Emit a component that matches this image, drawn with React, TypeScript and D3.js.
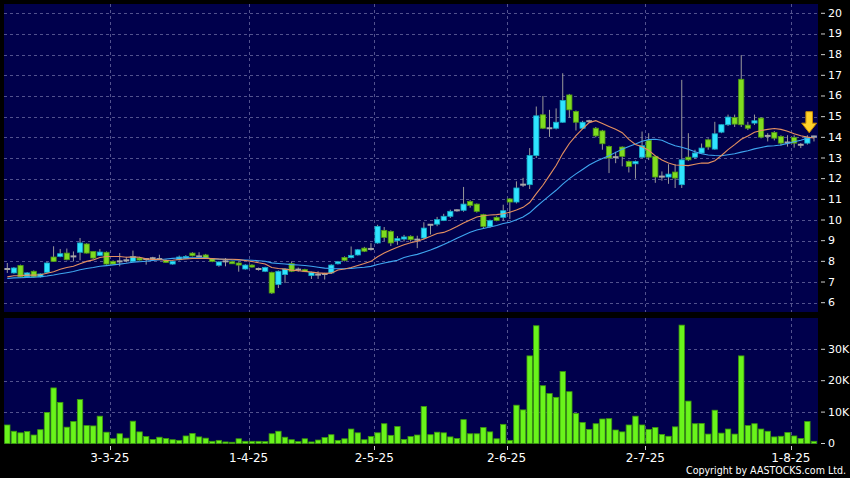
import React from "react";
import * as d3 from "d3";

// trading days Feb 7 2025 .. Aug 6 2025 (HK holidays removed)
const START = "2025-02-07";
const END = "2025-08-06";
const HOLIDAYS = ["2025-04-04", "2025-04-18", "2025-04-21", "2025-05-01", "2025-05-05", "2025-07-01"];

const OPEN = [
  7.63, 7.44, 7.80, 7.25, 7.52, 7.25, 7.47, 8.21, 8.24, 8.40,
  8.24, 8.44, 8.84, 8.48, 8.29, 8.44, 8.00, 8.00, 8.05, 8.00,
  8.16, 8.11, 8.15, 8.11, 8.05, 7.87, 8.08, 8.16, 8.40, 8.24,
  8.31, 8.13, 7.81, 8.00, 7.98, 7.92, 7.63, 7.82, 7.63, 7.52,
  7.47, 6.88, 7.36, 7.89, 7.60, 7.60, 7.31, 7.36, 7.39, 7.44,
  7.89, 8.19, 8.18, 8.31, 8.64, 8.60, 8.89, 9.50, 9.45, 9.00,
  9.08, 9.21, 9.05, 9.13, 9.77, 9.80, 9.98, 10.18, 10.47, 10.47,
  10.90, 10.77, 10.26, 9.69, 10.13, 10.13, 11.02, 10.87, 11.71, 11.71,
  13.12, 15.09, 14.44, 14.44, 14.73, 16.05, 15.25, 14.44, 14.78, 14.44,
  14.31, 13.56, 13.04, 13.53, 12.83, 12.72, 13.04, 13.85, 13.08, 12.10,
  12.08, 12.32, 11.71, 13.04, 13.04, 13.24, 13.88, 13.43, 14.25, 14.61,
  14.96, 16.81, 14.59, 14.69, 14.93, 14.07, 14.23, 14.04, 13.75, 14.00,
  13.64, 13.72, 14.04
];
const HIGH = [
  7.92, 7.72, 7.84, 7.48, 7.56, 7.42, 7.98, 8.73, 8.60, 8.62,
  8.48, 9.13, 8.88, 8.50, 8.60, 8.48, 8.05, 8.40, 8.22, 8.52,
  8.22, 8.16, 8.22, 8.32, 8.10, 8.04, 8.28, 8.30, 8.44, 8.44,
  8.36, 8.16, 8.00, 8.16, 8.02, 7.96, 7.86, 7.86, 7.70, 7.74,
  7.50, 7.56, 7.66, 8.00, 7.70, 7.64, 7.50, 7.52, 7.45, 7.86,
  8.02, 8.24, 8.72, 8.60, 8.70, 8.88, 9.77, 9.66, 9.50, 9.22,
  9.28, 9.26, 9.24, 9.89, 9.80, 10.15, 10.30, 10.50, 10.52, 11.60,
  10.96, 10.80, 10.30, 10.02, 10.18, 10.74, 11.06, 11.87, 12.04, 13.48,
  15.49, 16.00, 15.33, 15.40, 17.10, 16.10, 15.30, 14.80, 14.85, 14.50,
  14.36, 13.60, 13.30, 13.56, 12.88, 12.88, 14.28, 14.20, 13.12, 12.35,
  12.70, 12.70, 16.78, 14.20, 13.40, 13.70, 13.95, 14.75, 14.62, 15.10,
  15.10, 17.98, 14.75, 15.10, 14.98, 14.20, 14.30, 14.10, 14.10, 14.10,
  13.72, 14.10, 14.08
];
const LOW = [
  7.44, 7.40, 7.22, 7.20, 7.22, 7.22, 7.44, 7.98, 8.20, 8.05,
  8.00, 8.05, 8.38, 8.12, 8.26, 7.84, 7.84, 7.76, 7.95, 7.96,
  8.04, 7.84, 8.10, 8.06, 7.92, 7.84, 8.04, 8.12, 8.24, 8.20,
  8.12, 7.96, 7.74, 7.76, 7.88, 7.50, 7.60, 7.70, 7.55, 7.48,
  6.42, 6.71, 6.95, 7.48, 7.50, 7.48, 7.15, 7.15, 7.12, 7.40,
  7.85, 8.00, 8.14, 8.28, 8.45, 8.52, 8.85, 8.98, 8.74, 8.80,
  8.96, 8.96, 8.64, 9.06, 9.30, 9.70, 9.95, 10.10, 10.40, 10.40,
  10.60, 10.36, 9.60, 9.62, 9.94, 9.96, 10.05, 10.80, 11.60, 11.50,
  13.00, 14.40, 14.02, 14.38, 14.70, 14.95, 14.33, 14.40, 14.70, 14.00,
  13.40, 12.27, 12.75, 12.60, 12.30, 12.00, 12.98, 12.90, 11.80, 11.90,
  11.75, 11.55, 11.55, 12.85, 12.95, 13.20, 13.40, 13.40, 14.20, 14.55,
  14.50, 14.50, 14.35, 14.60, 13.95, 13.80, 13.85, 13.60, 13.55, 13.50,
  13.48, 13.65, 13.80
];
const CLOSE = [
  7.63, 7.68, 7.25, 7.44, 7.25, 7.39, 7.92, 8.00, 8.37, 8.08,
  8.24, 8.89, 8.40, 8.16, 8.45, 7.87, 7.87, 8.00, 8.05, 8.24,
  8.07, 8.11, 8.15, 8.11, 7.95, 8.00, 8.21, 8.24, 8.27, 8.24,
  8.16, 8.00, 7.97, 8.00, 7.92, 7.82, 7.82, 7.73, 7.63, 7.70,
  6.47, 7.52, 7.63, 7.52, 7.60, 7.52, 7.47, 7.36, 7.39, 7.82,
  7.98, 8.05, 8.29, 8.56, 8.49, 8.60, 9.69, 9.16, 8.89, 9.10,
  9.18, 9.05, 9.05, 9.61, 9.77, 10.02, 10.18, 10.42, 10.47, 10.77,
  10.71, 10.42, 9.69, 9.97, 9.98, 10.45, 10.87, 11.55, 11.71, 13.12,
  15.04, 14.44, 14.44, 14.73, 15.78, 15.33, 14.73, 14.73, 14.78, 14.07,
  13.69, 13.00, 13.04, 13.08, 12.59, 12.83, 13.59, 13.04, 12.08, 12.10,
  12.22, 12.03, 12.91, 12.91, 13.24, 13.48, 13.53, 14.17, 14.61, 14.98,
  14.64, 14.61, 14.44, 14.80, 14.01, 14.07, 13.96, 13.72, 13.75, 13.72,
  13.64, 14.00, 14.04
];
const VOLUME = [
  5900, 3900, 3400, 3800, 2700, 4400, 9900, 17700, 13100, 5200,
  7000, 14000, 5700, 5600, 8700, 3600, 1500, 3100, 1700, 7100,
  3700, 2200, 1300, 2000, 1600, 1200, 1000, 2400, 3200, 2100,
  1700, 700, 1000, 500, 400, 1500, 700, 700, 700, 600,
  3100, 3900, 2000, 1200, 600, 1500, 500, 1100, 1900, 2800,
  1000, 1500, 4600, 3400, 1200, 2200, 3400, 6300, 2600, 5400,
  1300, 2200, 2700, 11800, 2800, 3600, 3400, 2100, 1600, 7600,
  3100, 3100, 5100, 3700, 1500, 6100, 1000, 12200, 10700, 27900,
  37500, 18400, 15900, 14700, 22900, 16500, 9600, 6700, 4500, 6300,
  7800, 7900, 4300, 3700, 5900, 8700, 5900, 4500, 5100, 2900,
  2300, 5300, 37700, 13500, 6300, 6400, 3000, 10600, 3300, 4600,
  3000, 27900, 5700, 6300, 4600, 3900, 2100, 2300, 3500, 2400,
  1600, 7000, 700
];
// closes before the first bar, only used to seed the moving averages
const PRIOR_CLOSE = [
  7.05, 7.12, 7.08, 7.02, 7.10, 7.15, 7.06, 7.11, 7.09, 7.12,
  7.15, 7.20, 7.18, 7.25, 7.22, 7.19, 7.24, 7.20, 7.24
];
const PRICE_TICKS = [6, 7, 8, 9, 10, 11, 12, 13, 14, 15, 16, 17, 18, 19, 20];
const VOL_TICKS = [0, 10000, 20000, 30000];
const VOL_LABELS = ["0", "10K", "20K", "30K"];

function tradingDays(start: string, end: string, holidays: string[]) {
  const out: string[] = [];
  const d = new Date(start + "T00:00:00Z");
  const e = new Date(end + "T00:00:00Z");
  while (d <= e) {
    const iso = d.toISOString().slice(0, 10);
    const wd = d.getUTCDay();
    if (wd !== 0 && wd !== 6 && !holidays.includes(iso)) out.push(iso);
    d.setUTCDate(d.getUTCDate() + 1);
  }
  return out;
}

function sma(values: number[], prior: number[], n: number) {
  const all = prior.concat(values);
  return values.map((_, i) => {
    const j = i + prior.length;
    const win = all.slice(Math.max(0, j - n + 1), j + 1);
    return d3.mean(win) as number;
  });
}

const DATES = tradingDays(START, END, HOLIDAYS);

const NAVY = "#00004c";
const GRID = "#52528e";
const FONT = "DejaVu Sans, Verdana, sans-serif";

export default function App() {
  const W = 850, H = 478;
  const left = 4, right = 818;
  const upTop = 4, upBot = 312;
  const loTop = 318, loBot = 444;

  const x = d3.scaleBand<string>().domain(DATES).range([left, 817.3]).paddingInner(0).paddingOuter(0);
  const bw = x.step();
  const cx = (d: string) => (x(d) as number) + bw / 2;
  const y = d3.scaleLinear().domain([6, 20]).range([302.7, 13.3]);
  const v = d3.scaleLinear().domain([0, 30000]).range([443.5, 349.3]);

  const ma10 = sma(CLOSE, PRIOR_CLOSE, 10);
  const ma20 = sma(CLOSE, PRIOR_CLOSE, 20);
  const line = d3.line<number>().x((_, i) => cx(DATES[i])).y((d) => y(d)).curve(d3.curveLinear);

  // first trading day of each month (after the first)
  const monthStarts = DATES.filter((d, i) => i > 0 && d.slice(5, 7) !== DATES[i - 1].slice(5, 7));
  const fmt = (iso: string) => {
    const [yy, mm, dd] = iso.split("-");
    return `${+dd}-${+mm}-${yy.slice(2)}`;
  };

  const last = DATES.length - 1;
  const ax = (x(DATES[last]) as number) - 1.5;
  const tipY = y(HIGH[last]) - 3;

  return (
    <svg width={W} height={H} style={{ position: "absolute", left: 0, top: 0, display: "block" }}>
      <rect x={0} y={0} width={W} height={H} fill="#000" />
      <rect x={left} y={upTop} width={right - left} height={upBot - upTop} fill={NAVY} />
      <rect x={left} y={loTop} width={right - left} height={loBot - loTop} fill={NAVY} />

      {/* grid */}
      <g stroke={GRID} strokeWidth={1} strokeDasharray="3,3" shapeRendering="crispEdges">
        {PRICE_TICKS.map((p) => (
          <line key={"hp" + p} x1={left} x2={right} y1={Math.round(y(p)) + 0.5} y2={Math.round(y(p)) + 0.5} />
        ))}
        {VOL_TICKS.slice(1).map((t) => (
          <line key={"hv" + t} x1={left} x2={right} y1={Math.round(v(t)) + 0.5} y2={Math.round(v(t)) + 0.5} />
        ))}
        {monthStarts.map((d) => (
          <g key={"vg" + d}>
            <line x1={Math.round(x(d) as number) + 0.5} x2={Math.round(x(d) as number) + 0.5} y1={upTop} y2={upBot} />
            <line x1={Math.round(x(d) as number) + 0.5} x2={Math.round(x(d) as number) + 0.5} y1={loTop} y2={loBot} />
          </g>
        ))}
      </g>

      {/* candles: wicks */}
      <g stroke="#9a9a9a" strokeWidth={1}>
        {DATES.map((d, i) => (
          <line key={"w" + i} x1={cx(d)} x2={cx(d)} y1={y(HIGH[i])} y2={y(LOW[i])} />
        ))}
      </g>
      {/* candles: bodies */}
      <g>
        {DATES.map((d, i) => {
          const o = OPEN[i], c = CLOSE[i];
          const bx = cx(d) - 2.6;
          if (Math.abs(c - o) < 0.005) {
            return <rect key={"b" + i} x={bx - 0.3} y={y(c) - 1} width={5.8} height={2} fill="#a8a8a8" />;
          }
          const up = c > o;
          const top = y(Math.max(o, c));
          const h = Math.max(2, y(Math.min(o, c)) - top);
          return (
            <rect key={"b" + i} x={bx} y={top} width={5.2} height={h}
              fill={up ? "#2fe4ff" : "#7fdc20"} stroke={up ? "#14a9c4" : "#4f9a12"} strokeWidth={0.8} />
          );
        })}
      </g>

      {/* moving averages */}
      <path d={line(ma20) || ""} fill="none" stroke="#3fa6f0" strokeWidth={1.1} />
      <path d={line(ma10) || ""} fill="none" stroke="#e59060" strokeWidth={1.1} />

      {/* arrow on the latest bar */}
      <path
        d={`M${ax - 3.3},${tipY - 21} L${ax + 3.3},${tipY - 21} L${ax + 3.3},${tipY - 9.5} L${ax + 7.5},${tipY - 9.5} L${ax},${tipY} L${ax - 7.5},${tipY - 9.5} L${ax - 3.3},${tipY - 9.5} Z`}
        fill="#ffd22a" stroke="#c98a00" strokeWidth={1} strokeLinejoin="round"
      />

      {/* volume */}
      <g>
        {DATES.map((d, i) => (
          <rect key={"v" + i} x={cx(d) - 2.7} y={v(VOLUME[i])} width={5.4} height={v(0) - v(VOLUME[i])}
            fill="#69f41b" stroke="#3d9a0c" strokeWidth={0.8} />
        ))}
      </g>

      {/* right price axis */}
      <g fontFamily={FONT} fontSize={11} fill="#ffffff">
        {PRICE_TICKS.map((p) => (
          <g key={"pl" + p}>
            <line x1={821} x2={825} y1={y(p)} y2={y(p)} stroke="#cfcfcf" strokeWidth={1} />
            <text x={828} y={y(p)} dominantBaseline="central">{p}</text>
          </g>
        ))}
        {VOL_TICKS.map((t, i) => (
          <g key={"vl" + t}>
            <line x1={821} x2={825} y1={v(t)} y2={v(t)} stroke="#cfcfcf" strokeWidth={1} />
            <text x={828} y={v(t)} dominantBaseline="central">{VOL_LABELS[i]}</text>
          </g>
        ))}
      </g>

      {/* date axis */}
      <g fontFamily={FONT} fontSize={12} fill="#ffffff">
        {monthStarts.map((d) => (
          <g key={"dl" + d}>
            <line x1={Math.round(x(d) as number) + 0.5} x2={Math.round(x(d) as number) + 0.5} y1={446} y2={450} stroke="#cfcfcf" />
            <text x={x(d) as number} y={462} textAnchor="middle">{fmt(d)}</text>
          </g>
        ))}
      </g>

      <text x={846} y={473.5} textAnchor="end" fontFamily="DejaVu Sans Condensed, DejaVu Sans, sans-serif" fontSize={10.5}
        fill="#ffffff" textLength={160} lengthAdjust="spacingAndGlyphs">
        Copyright by AASTOCKS.com Ltd.
      </text>
    </svg>
  );
}
